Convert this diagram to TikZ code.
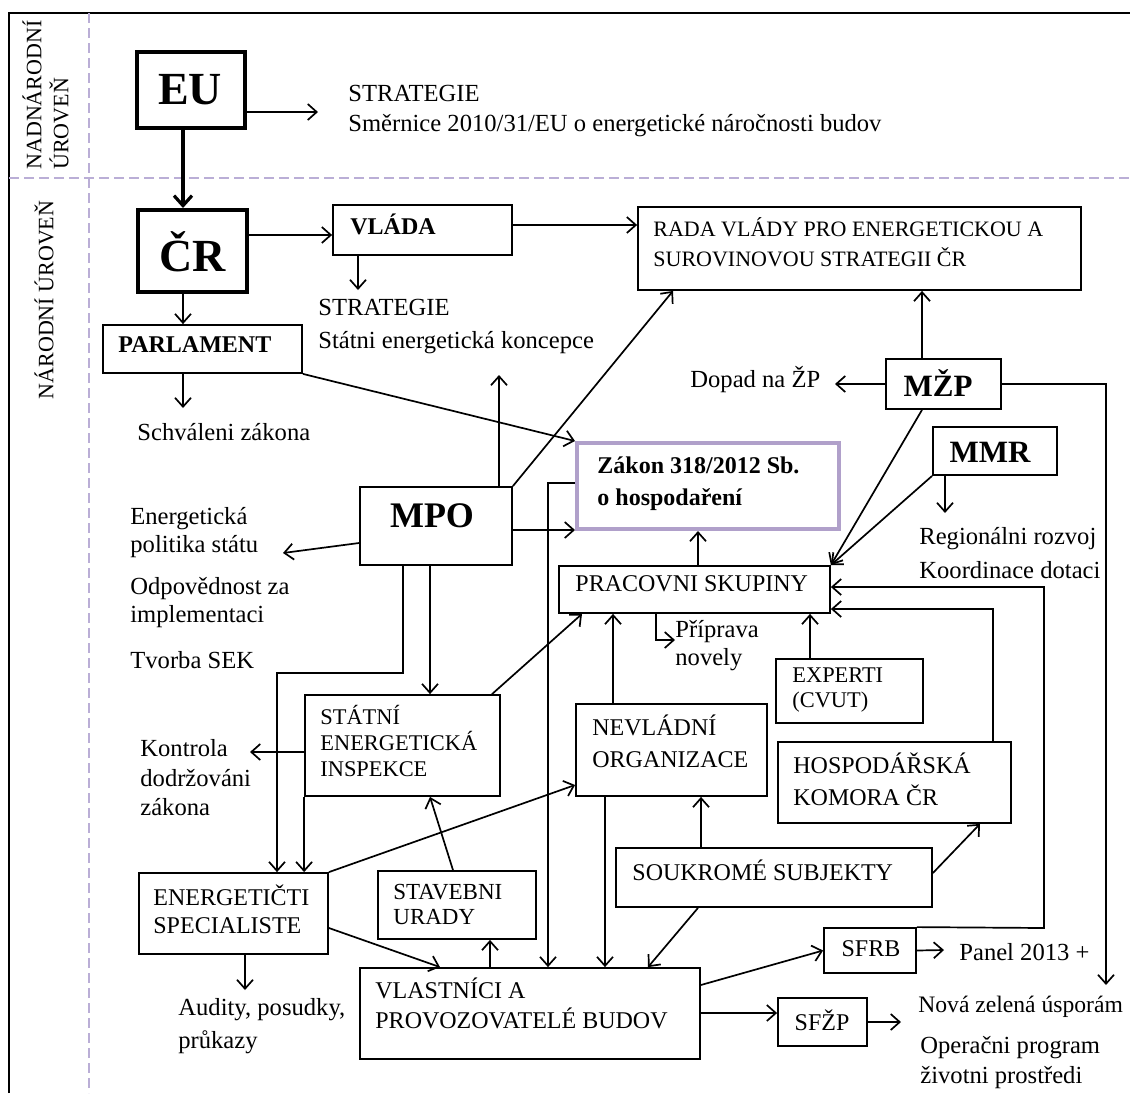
\documentclass[tikz,border=0pt]{standalone}
\usepackage{fontspec}
\setmainfont{Liberation Serif}
\usetikzlibrary{arrows.meta,fit}
\definecolor{lav}{RGB}{186,174,214}
\definecolor{zborder}{RGB}{176,160,202}
\newcommand\myfs[2]{\fontsize{#1}{#2}\selectfont}
\begin{document}
\begin{tikzpicture}[x=0.5pt,y=-0.5pt,
  box/.style={draw, line width=0.9pt, inner sep=0pt},
  thickbox/.style={draw, line width=2pt, inner sep=0pt},
  zbox/.style={draw=zborder, line width=2pt, inner sep=0pt},
  txt/.style={inner sep=0pt, anchor=west, align=left},
  ctxt/.style={inner sep=0pt, anchor=center},
  con/.style={line width=0.85pt},
  arr/.style={line width=0.85pt, -{Straight Barb[length=4.5pt,width=8pt]}},
  bigarr/.style={line width=1.6pt, -{Straight Barb[length=5pt,width=9pt]}},
  guide/.style={lav, line width=0.8pt, dash pattern=on 5pt off 2.5pt}
]
\useasboundingbox (0,0) rectangle (1130,1093);
% frame and level guides
\draw[line width=1pt] (9,1093) -- (9,13) -- (1130,13);
\draw[guide] (89,13) -- (89,1093);
\draw[guide] (9,178) -- (1130,178);
\node[inner sep=0pt, rotate=90, anchor=north west, align=left, font=\myfs{11}{13.5}] (lvlA) at (22,170) {NADNÁRODNÍ\\ÚROVEŇ};
\node[inner sep=0pt, rotate=90, anchor=center, font=\myfs{11}{13}] (lvlB) at (44,300) {NÁRODNÍ ÚROVEŇ};

% boxes
\node[thickbox, fit={(137,52) (245,128)}] (eu) {};
\node[thickbox, fit={(138,210) (247,292)}] (cr) {};
\node[box, fit={(333,205) (512,255)}] (vlada) {};
\node[box, fit={(638,207) (1081,290)}] (rada) {};
\node[box, fit={(103,325) (302,373)}] (parl) {};
\node[box, fit={(886,359) (1001,409)}] (mzp) {};
\node[box, fit={(933,427) (1057,475)}] (mmr) {};
\node[zbox, fit={(577,443) (839,529)}] (zakon) {};
\node[box, fit={(360,487) (512,565)}] (mpo) {};
\node[box, fit={(559,566) (830,613)}] (prac) {};
\node[box, fit={(776,659) (923,723)}] (expert) {};
\node[box, fit={(305,695) (500,796)}] (sei) {};
\node[box, fit={(576,704) (767,796)}] (nevl) {};
\node[box, fit={(778,742) (1011,823)}] (hosp) {};
\node[box, fit={(616,848) (932,907)}] (souk) {};
\node[box, fit={(139,873) (328,954)}] (energ) {};
\node[box, fit={(378,871) (536,939)}] (stav) {};
\node[box, fit={(824,928) (916,973)}] (sfrb) {};
\node[box, fit={(360,968) (700,1059)}] (vlast) {};
\node[box, fit={(778,998) (867,1046)}] (sfzp) {};

% box texts
\node[ctxt, font=\myfs{23}{26}\bfseries] (eu-t) at (190,90) {EU};
\node[ctxt, font=\myfs{23}{26}\bfseries] (cr-t) at (193,252) {ČR};
\node[txt, font=\myfs{12}{15}\bfseries] (vlada-t) at (350,224) {VLÁDA};
\node[txt, font=\myfs{11}{15}] (rada-t) at (653,242) {RADA VLÁDY PRO ENERGETICKOU A\\SUROVINOVOU STRATEGII ČR};
\node[txt, font=\myfs{12}{15}\bfseries] (parl-t) at (118,345) {PARLAMENT};
\node[ctxt, font=\myfs{15.5}{18}\bfseries] (mzp-t) at (938,383) {MŽP};
\node[ctxt, font=\myfs{15.5}{18}\bfseries] (mmr-t) at (990,452) {MMR};
\node[txt, font=\myfs{12}{16}\bfseries] (zakon-t) at (597,484) {Zákon 318/2012 Sb.\\o hospodaření};
\node[ctxt, font=\myfs{18}{20}\bfseries] (mpo-t) at (432,516) {MPO};
\node[txt, font=\myfs{12}{15}] (prac-t) at (575,584) {PRACOVNI SKUPINY};
\node[txt, font=\myfs{11.2}{12.5}] (expert-t) at (792,690) {EXPERTI\\(CVUT)};
\node[txt, font=\myfs{11.2}{13}] (sei-t) at (320,741) {STÁTNÍ\\ENERGETICKÁ\\INSPEKCE};
\node[txt, font=\myfs{12}{16}] (nevl-t) at (592,741) {NEVLÁDNÍ\\ORGANIZACE};
\node[txt, font=\myfs{12}{16}] (hosp-t) at (793,779) {HOSPODÁŘSKÁ\\KOMORA ČR};
\node[txt, font=\myfs{12}{15}] (souk-t) at (632,870) {SOUKROMÉ SUBJEKTY};
\node[txt, font=\myfs{12}{14}] (energ-t) at (153,909) {ENERGETIČTI\\SPECIALISTE};
\node[txt, font=\myfs{11.5}{12.5}] (stav-t) at (393,904) {STAVEBNI\\URADY};
\node[ctxt, font=\myfs{12}{15}] (sfrb-t) at (871,949) {SFRB};
\node[txt, font=\myfs{12}{15}] (vlast-t) at (375,1003) {VLASTNÍCI A\\PROVOZOVATELÉ BUDOV};
\node[ctxt, font=\myfs{12}{15}] (sfzp-t) at (822,1020) {SFŽP};

% free texts
\node[txt, font=\myfs{12.3}{15}] (strat1) at (348,111) {STRATEGIE\\Směrnice 2010/31/EU o energetické náročnosti budov};
\node[txt, font=\myfs{12.3}{16.5}] (strat2) at (318,327) {STRATEGIE\\Státni energetická koncepce};
\node[txt, font=\myfs{12.3}{15}] (schval) at (137,432) {Schváleni zákona};
\node[txt, font=\myfs{12.3}{14}] (polit) at (130,533) {Energetická\\politika státu};
\node[txt, font=\myfs{12.3}{14}] (odpov) at (130,603) {Odpovědnost za\\implementaci};
\node[txt, font=\myfs{12.3}{14}] (tvorba) at (130,660) {Tvorba SEK};
\node[txt, font=\myfs{12.3}{14.75}] (kontr) at (140,778) {Kontrola\\dodržováni\\zákona};
\node[txt, font=\myfs{12.3}{15}] (dopad) at (690,380) {Dopad na ŽP};
\node[txt, font=\myfs{12.3}{17}] (region) at (919,553) {Regionálni rozvoj\\Koordinace dotaci};
\node[txt, font=\myfs{12.3}{14}] (pripr) at (675,646) {Příprava\\novely};
\node[txt, font=\myfs{12.3}{16.5}] (audit) at (178,1026) {Audity, posudky,\\průkazy};
\node[txt, font=\myfs{12.3}{15}] (panel) at (959,952) {Panel 2013 +};
\node[txt, font=\myfs{11.8}{15}] (nova) at (918,1007) {Nová zelená úsporám};
\node[txt, font=\myfs{12.3}{15}] (oper) at (920,1063) {Operačni program\\životni prostředi};

% free ends
\coordinate (e-strat1) at (318,112);
\coordinate (e-strat2) at (358,290);
\coordinate (e-strat2b) at (499,375);
\coordinate (e-schval) at (183,408);
\coordinate (e-polit) at (283,553);
\coordinate (e-kontr) at (250,752);
\coordinate (e-audit) at (245,990);
\coordinate (e-pripr) at (675,640);
\coordinate (e-dopad) at (835,384);
\coordinate (e-region) at (945,513);
\coordinate (e-panel) at (944,950);
\coordinate (e-nova) at (901,1022);
\coordinate (e-nova2) at (1106,985);

% connectors
\draw[arr] (eu.east |- 0,112) -- (e-strat1);
\draw[bigarr] (183,0 |- eu.south) -- (183,0 |- cr.north);
\draw[arr] (cr.east |- 0,235) -- (vlada.west |- 0,235);
\draw[arr] (358,0 |- vlada.south) -- (e-strat2);
\draw[arr] (vlada.east |- 0,225) -- (rada.west |- 0,225);
\draw[arr] (183,0 |- cr.south) -- (183,0 |- parl.north);
\draw[arr] (183,0 |- parl.south) -- (e-schval);
\draw[arr] (parl.south east) -- (zakon.north west);
\draw[arr] (499,0 |- mpo.north) -- (e-strat2b);
\draw[arr] (mpo.north east) -- (673,0 |- rada.south);
\draw[arr] (mpo.east |- 0,530) -- (zakon.west |- 0,530);
\draw[arr] (zakon.west |- 0,483) -- (548,483) -- (548,0 |- vlast.north);
\draw[arr] (mpo.west |- 0,543) -- (e-polit);
\draw[arr] (430,0 |- mpo.south) -- (430,0 |- sei.north);
\draw[arr] (403,0 |- mpo.south) -- (403,673) -- (277,673) -- (277,0 |- energ.north);
\draw[arr] (sei.west |- 0,752) -- (e-kontr);
\draw[arr] (sei.south west) -- (sei.south west |- energ.north);
\draw[arr] (492,0 |- sei.north) -- (582,0 |- prac.south);
\draw[arr] (453,0 |- stav.north) -- (430,0 |- sei.south);
\draw[arr] (energ.north east) -- (nevl.west |- 0,785);
\draw[arr] (energ.east |- 0,928) -- (440,0 |- vlast.north);
\draw[arr] (245,0 |- energ.south) -- (e-audit);
\draw[arr] (490,0 |- vlast.north) -- (490,0 |- stav.south);
\draw[arr] (613,0 |- nevl.north) -- (613,0 |- prac.south);
\draw[arr] (605,0 |- nevl.south) -- (605,0 |- vlast.north);
\draw[arr] (701,0 |- souk.north) -- (701,0 |- nevl.south);
\draw[arr] (souk.east |- 0,873) -- (980,0 |- hosp.south);
\draw[arr] (698,0 |- souk.south) -- (648,0 |- vlast.north);
\draw[arr] (698,0 |- prac.north) -- (698,0 |- zakon.south);
\draw[arr] (656,0 |- prac.south) -- (656,640) -- (e-pripr);
\draw[arr] (922,0 |- mzp.north) -- (922,0 |- rada.south);
\draw[arr] (mzp.west) -- (e-dopad);
\draw[arr] (mzp.east) -- (1106,0 |- mzp.east) -- (e-nova2);
\draw[arr] (922,0 |- mzp.south) -- (prac.north east);
\draw[arr] (mmr.south west) -- (prac.north east);
\draw[arr] (945,0 |- mmr.south) -- (e-region);
\draw[arr] (810,0 |- expert.north) -- (810,0 |- prac.south);
\draw[arr] (993,0 |- hosp.north) -- (993,609) -- (prac.east |- 0,609);
\draw[arr] (sfrb.north east) -- (1044,928) -- (1044,587) -- (prac.east |- 0,587);
\draw[arr] (vlast.east |- 0,985) -- (sfrb.west);
\draw[arr] (sfrb.east) -- (e-panel);
\draw[arr] (vlast.east |- 0,1013) -- (sfzp.west |- 0,1013);
\draw[arr] (sfzp.east) -- (e-nova);
\end{tikzpicture}
\end{document}
